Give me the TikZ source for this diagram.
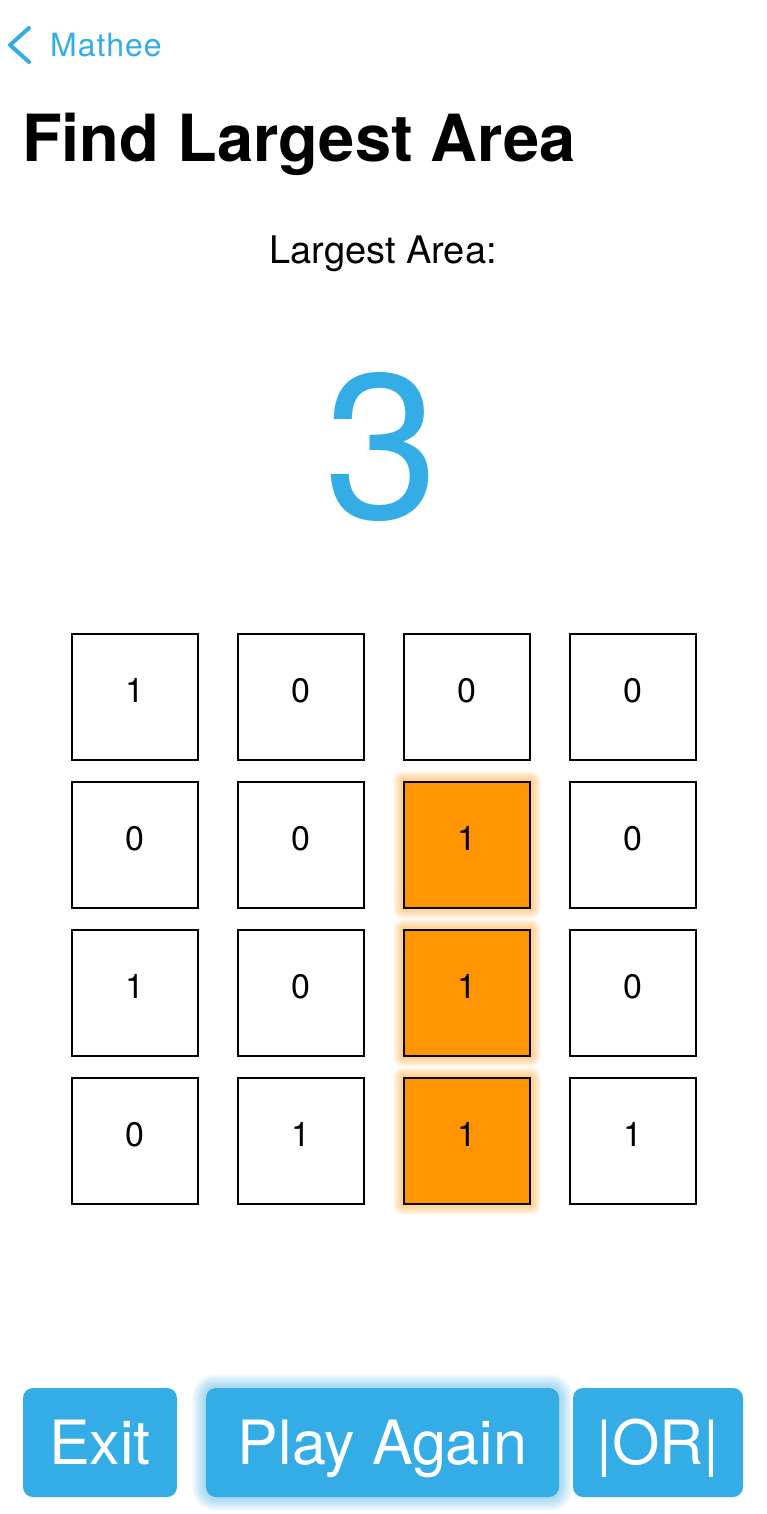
\documentclass[tikz,border=0pt]{standalone}
\usepackage{fontspec}
\setmainfont{TeX Gyre Heros}
\usetikzlibrary{backgrounds}
\definecolor{iosblue}{RGB}{52,173,230}
\definecolor{iosorange}{RGB}{255,149,0}
\begin{document}
\begin{tikzpicture}[x=1pt,y=-1pt,
  cellbox/.style={draw=black, line width=1.8pt, minimum width=126pt, minimum height=126pt, inner sep=0pt, anchor=north west, fill=white},
  hotcell/.style={cellbox, fill=iosorange},
  digit/.style={font=\fontsize{34}{34}\selectfont, inner sep=0pt, text height=24pt, text depth=0pt},
  btn/.style={fill=iosblue, rounded corners=10pt, minimum height=109pt, inner sep=0pt, text=white,
    font=\fontsize{61}{61}\selectfont, text height=44pt, text depth=0pt}]
\useasboundingbox (0,0) rectangle (766,1514);

% header
\coordinate (chevtop) at (29,28);
\coordinate (chevtip) at (10,45);
\coordinate (chevbot) at (29,62);
\draw[iosblue, line width=4pt, line cap=round, line join=round] (chevtop) -- (chevtip) -- (chevbot);
\node[anchor=base west, inner sep=0pt, text=iosblue, font=\fontsize{32}{32}\selectfont\addfontfeatures{LetterSpace=3}] (back) at (50,57) {Mathee};
\node[anchor=base west, inner sep=0pt, font=\fontsize{65}{65}\selectfont\bfseries] (title) at (22,162) {Find Largest Area};
\node[anchor=base, inner sep=0pt, font=\fontsize{38}{38}\selectfont] (lbl) at (383,263) {Largest Area:};
\node[anchor=base, inner sep=0pt, text=iosblue, font=\fontsize{206}{206}\selectfont] (result) at (382,518) {3};

% grid
\foreach \r/\y/\a/\b/\c/\d in {1/633/1/0/0/0, 2/781/0/0/1/0, 3/929/1/0/1/0, 4/1077/0/1/1/1}{
  \node[cellbox] (c\r1) at (71,\y) {};
  \node[cellbox] (c\r2) at (237,\y) {};
  \ifnum\r=1
    \node[cellbox] (c\r3) at (403,\y) {};
  \else
    \node[hotcell] (c\r3) at (403,\y) {};
  \fi
  \node[cellbox] (c\r4) at (569,\y) {};
  \node[digit] (d\r1) at ([yshift=6pt]c\r1.center) {\a};
  \node[digit] (d\r2) at ([yshift=6pt]c\r2.center) {\b};
  \node[digit] (d\r3) at ([yshift=6pt]c\r3.center) {\c};
  \node[digit] (d\r4) at ([yshift=6pt]c\r4.center) {\d};
}

% buttons
\node[btn, minimum width=154pt] (exit) at (100,1442.5) {Exit};
\node[btn, minimum width=353pt] (again) at (382.5,1442.5) {Play Again};
\node[btn, minimum width=170pt] (orbtn) at (658,1442.5) {|OR|};

% glows
\begin{pgfonlayer}{background}
  \fill[white] (0,0) rectangle (766,1514);
  \foreach \r in {2,3,4}{
    \foreach \i in {1,...,10}{
      \fill[iosorange, opacity=0.05, rounded corners=\i pt] ([xshift=-\i pt, yshift=\i pt]c\r3.north west) rectangle ([xshift=\i pt, yshift=-\i pt]c\r3.south east);
    }
  }
  \foreach \i in {1,...,14}{
    \fill[iosblue, opacity=0.035, rounded corners=10pt+\i pt] ([xshift=-\i pt, yshift=\i pt]again.north west) rectangle ([xshift=\i pt, yshift=-\i pt]again.south east);
  }
\end{pgfonlayer}
\end{tikzpicture}
\end{document}
